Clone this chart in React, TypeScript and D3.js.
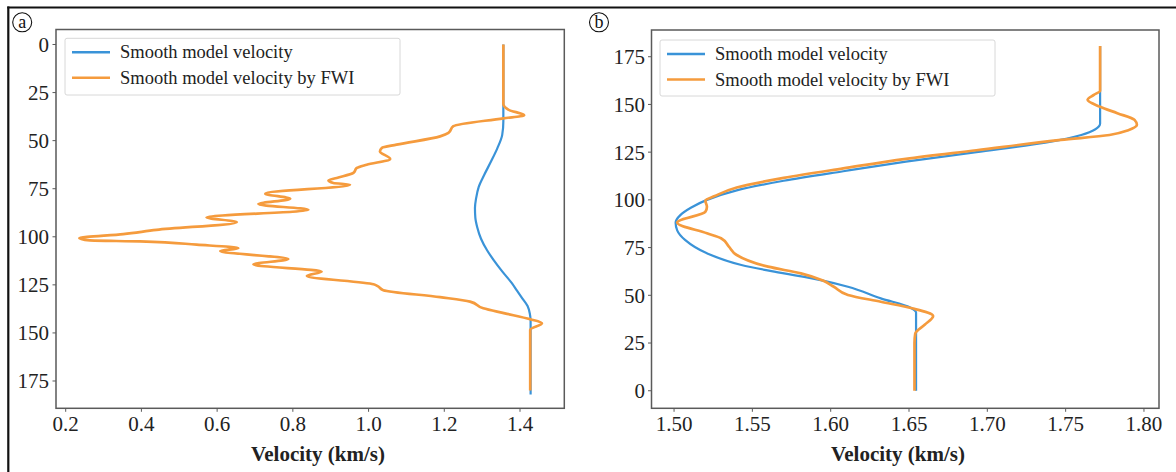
import React from "react";
import * as d3 from "d3";

// ---------- Data ----------
// Panel (a): depth (top = 0) vs velocity (km/s)
const depthBlueA = [0, 30, 40, 47, 54, 61, 68, 74, 80, 85, 90, 95, 101, 107, 112, 118, 124, 128, 132, 136, 140, 144, 150, 182];
const velBlueA = [1.356, 1.356, 1.356, 1.353, 1.34, 1.323, 1.305, 1.291, 1.284, 1.281, 1.282, 1.287, 1.297, 1.313, 1.33, 1.353, 1.378, 1.392, 1.406, 1.42, 1.426, 1.428, 1.428, 1.428];

const depthOrangeA = [0, 31, 34, 36.8, 38.4, 42.5, 46, 47.8, 52.1, 53.8, 55.6, 59.5, 62.5, 64.2, 66.8, 69.4, 70.7, 72, 72.9, 77.6, 80.2, 83, 86, 89.9, 92.4, 96.4, 98.6, 100.7, 101.9, 102.4, 104.1, 105.9, 107.4, 111.6, 114.4, 118.1, 120.4, 124.7, 125.8, 127.8, 131.4, 133.7, 137.2, 139.8, 142.9, 145, 148.4, 150, 180];
const velOrangeA = [1.356, 1.356, 1.37, 1.411, 1.356, 1.224, 1.211, 1.189, 1.074, 1.035, 1.03, 1.057, 0.995, 0.969, 0.96, 0.916, 0.894, 0.907, 0.951, 0.727, 0.793, 0.709, 0.841, 0.572, 0.652, 0.44, 0.352, 0.236, 0.264, 0.396, 0.546, 0.656, 0.608, 0.788, 0.696, 0.876, 0.837, 1.013, 1.025, 1.039, 1.189, 1.268, 1.303, 1.36, 1.427, 1.458, 1.427, 1.427, 1.427];

// Panel (b): depth axis pointing up
const depthBlueB = [0, 41, 43.5, 48.4, 54.5, 57.7, 62.4, 65.9, 72, 79, 84, 88, 92, 96, 100, 105, 110, 115, 120, 125, 130, 134, 137, 140, 180.6];
const velBlueB = [1.6545, 1.6545, 1.651, 1.632, 1.611, 1.595, 1.564, 1.543, 1.521, 1.507, 1.502, 1.501, 1.504, 1.511, 1.521, 1.54, 1.57, 1.608, 1.648, 1.693, 1.737, 1.76, 1.769, 1.772, 1.772];

const depthOrangeB = [0, 25, 30, 34.6, 39.2, 43.2, 46.6, 50.2, 54.5, 57.7, 61.5, 65, 71.1, 75.5, 79.9, 82.5, 88.1, 93.8, 96.4, 99.6, 102, 106.5, 111.5, 116.5, 121.5, 126, 131.4, 134, 136.5, 139.3, 141.9, 145.4, 148.8, 152.4, 155, 157.2, 180.6];
const velOrangeB = [1.6535, 1.6535, 1.654, 1.66, 1.6654, 1.652, 1.632, 1.611, 1.602, 1.595, 1.581, 1.56, 1.54, 1.535, 1.53, 1.521, 1.502, 1.52, 1.521, 1.52, 1.526, 1.54, 1.57, 1.608, 1.648, 1.693, 1.747, 1.778, 1.79, 1.7955, 1.794, 1.783, 1.772, 1.764, 1.768, 1.772, 1.772];

const xTicksA = [0.2, 0.4, 0.6, 0.8, 1.0, 1.2, 1.4];
const yTicksA = [0, 25, 50, 75, 100, 125, 150, 175];
const xTicksB = [1.5, 1.55, 1.6, 1.65, 1.7, 1.75, 1.8];
const yTicksB = [0, 25, 50, 75, 100, 125, 150, 175];

const legendLabels = ["Smooth model velocity", "Smooth model velocity by FWI"];
const xLabel = "Velocity (km/s)";

const BLUE = "#3a93d8";
const ORANGE = "#f59b3d";
const SPINE = "#5a5a5a";
const FONT = "'Liberation Serif', 'Times New Roman', serif";

type Pt = { d: number; v: number };
const zip = (ds: number[], vs: number[]): Pt[] => ds.map((d, i) => ({ d, v: vs[i] }));

interface PanelProps {
  x: d3.ScaleLinear<number, number>;
  y: d3.ScaleLinear<number, number>;
  xTicks: number[];
  yTicks: number[];
  xFmt: (v: number) => string;
  blue: Pt[];
  orange: Pt[];
  legend: { x: number; y: number; w: number; h: number };
  labelX: number;
  tag: string;
  tagX: number;
  yLabelRight: number;
}

function Panel(p: PanelProps) {
  const [x0, x1] = p.x.range();
  const [ya, yb] = p.y.range();
  const top = Math.min(ya, yb);
  const bottom = Math.max(ya, yb);
  const line = d3
    .line<Pt>()
    .x((d) => p.x(d.v))
    .y((d) => p.y(d.d))
    .curve(d3.curveMonotoneY);
  const sortPts = (pts: Pt[]) => [...pts].sort((a, b) => p.y(a.d) - p.y(b.d));
  const lg = p.legend;
  return (
    <g>
      <rect x={x0} y={top} width={x1 - x0} height={bottom - top} fill="#fff" />
      <path d={line(sortPts(p.blue)) || ""} fill="none" stroke={BLUE} strokeWidth={2.2} />
      <path d={line(sortPts(p.orange)) || ""} fill="none" stroke={ORANGE} strokeWidth={2.7} strokeLinejoin="round" />
      <rect x={x0} y={top} width={x1 - x0} height={bottom - top} fill="none" stroke={SPINE} strokeWidth={1.5} />
      {p.xTicks.map((t) => (
        <g key={"xt" + t}>
          <line x1={p.x(t)} x2={p.x(t)} y1={bottom} y2={bottom + 3.5} stroke={SPINE} strokeWidth={1} />
          <text x={p.x(t)} y={bottom + 23} textAnchor="middle" fontFamily={FONT} fontSize={21} fill="#222">
            {p.xFmt(t)}
          </text>
        </g>
      ))}
      {p.yTicks.map((t) => (
        <g key={"yt" + t}>
          <line x1={x0 - 3.5} x2={x0} y1={p.y(t)} y2={p.y(t)} stroke={SPINE} strokeWidth={1} />
          <text x={p.yLabelRight} y={p.y(t)} dy="0.35em" textAnchor="end" fontFamily={FONT} fontSize={21} fill="#222">
            {t}
          </text>
        </g>
      ))}
      <text x={p.labelX} y={bottom + 53} textAnchor="middle" fontFamily={FONT} fontSize={21} fontWeight="bold" fill="#222">
        {xLabel}
      </text>
      <rect x={lg.x} y={lg.y} width={lg.w} height={lg.h} rx={2} fill="#fff" stroke="#d8d8d8" strokeWidth={1} />
      {legendLabels.map((lab, i) => {
        const ly = lg.y + 14 + i * 25.5;
        return (
          <g key={lab}>
            <line x1={lg.x + 7} x2={lg.x + 45} y1={ly} y2={ly} stroke={i === 0 ? BLUE : ORANGE} strokeWidth={2.6} />
            <text x={lg.x + 55} y={ly + 6} fontFamily={FONT} fontSize={18.5} fill="#222">
              {lab}
            </text>
          </g>
        );
      })}
      <circle cx={p.tagX} cy={22.3} r={9.5} fill="none" stroke="#111" strokeWidth={1.1} />
      <text x={p.tagX} y={22.3} dy="0.33em" textAnchor="middle" fontFamily={FONT} fontSize={18} fill="#111">
        {p.tag}
      </text>
    </g>
  );
}

export default function App() {
  const xA = d3.scaleLinear().domain([0.1744, 1.517]).range([56, 564.3]);
  const yA = d3.scaleLinear().domain([-7.8, 189.2]).range([29.5, 408.3]);
  const xB = d3.scaleLinear().domain([1.4856, 1.8096]).range([651.5, 1159]);
  const yB = d3.scaleLinear().domain([-9.2, 189]).range([408.3, 30]);

  return (
    <svg width={1176} height={472} style={{ position: "absolute", left: 0, top: 0, background: "#fff" }}>
      <rect x={0} y={0} width={1176} height={472} fill="#fff" />
      <line x1={7.3} x2={1176} y1={7.5} y2={7.5} stroke="#111" strokeWidth={2.2} />
      <line x1={8.3} x2={8.3} y1={6.5} y2={472} stroke="#111" strokeWidth={2.2} />
      <Panel
        x={xA}
        y={yA}
        xTicks={xTicksA}
        yTicks={yTicksA}
        xFmt={d3.format(".1f")}
        blue={zip(depthBlueA, velBlueA)}
        orange={zip(depthOrangeA, velOrangeA)}
        legend={{ x: 65, y: 38.3, w: 335, h: 56.7 }}
        labelX={318}
        tag="a"
        tagX={22.2}
        yLabelRight={49}
      />
      <Panel
        x={xB}
        y={yB}
        xTicks={xTicksB}
        yTicks={yTicksB}
        xFmt={d3.format(".2f")}
        blue={zip(depthBlueB, velBlueB)}
        orange={zip(depthOrangeB, velOrangeB)}
        legend={{ x: 660, y: 40, w: 335, h: 56 }}
        labelX={898}
        tag="b"
        tagX={599}
        yLabelRight={645}
      />
    </svg>
  );
}
